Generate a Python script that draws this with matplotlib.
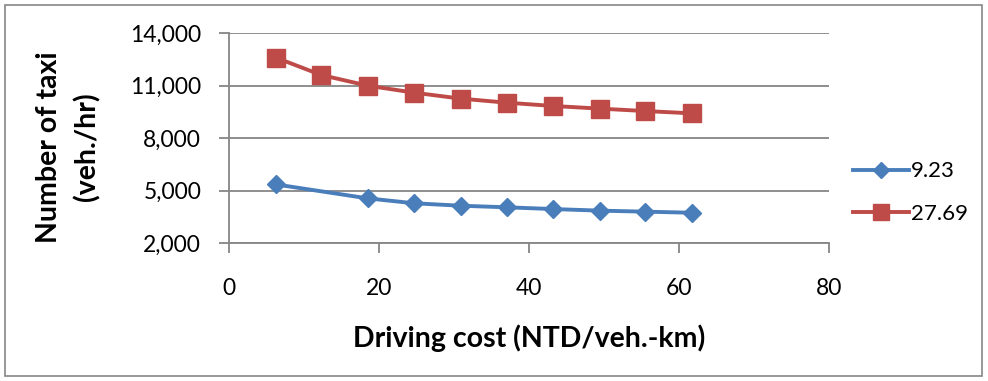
import numpy as np
import matplotlib
import matplotlib.pyplot as plt
from matplotlib.ticker import FuncFormatter
from matplotlib.patches import Rectangle

matplotlib.use('Agg')

# data
cost = [6.2, 12.3, 18.5, 24.7, 30.9, 37.0, 43.2, 49.4, 55.5, 61.7]
taxi_923 = [5350, np.nan, 4550, 4270, 4130, 4040, 3940, 3850, 3790, 3730]
taxi_2769 = [12600, 11600, 10990, 10590, 10250, 10020, 9830, 9680, 9540, 9410]
series_names = ['9.23', '27.69']

plt.rcParams['font.family'] = ['Lato', 'DejaVu Sans']

W, H = 988, 381
fig = plt.figure(figsize=(W / 100, H / 100), dpi=100)
ax = fig.add_axes([229 / W, 1 - 243 / H, 600 / W, 210 / H])

# outer chart border
fig.patches.append(Rectangle((5 / W, 5 / H), 977 / W, 371 / H,
                             transform=fig.transFigure, fill=False,
                             edgecolor='#868686', linewidth=1.2))

blue = '#4A7EBB'
red = '#BE4B48'

x = np.array(cost)
y1 = np.array(taxi_923)
ok = ~np.isnan(y1)
ax.plot(x[ok], y1[ok], color=blue, lw=2.8, marker='D', ms=9,
        markeredgecolor=blue, markeredgewidth=1, label=series_names[0], zorder=3)
ax.plot(x, taxi_2769, color=red, lw=2.8, marker='s', ms=13.5,
        markeredgecolor=red, markeredgewidth=1, label=series_names[1], zorder=3)

ax.set_xlim(0, 80)
ax.set_ylim(2000, 14000)
ax.set_xticks([0, 20, 40, 60, 80])
ax.set_yticks([2000, 5000, 8000, 11000, 14000])
ax.yaxis.set_major_formatter(FuncFormatter(lambda v, p: f'{int(v):,}'))

ax.grid(axis='y', color='#868686', lw=1.3)
ax.set_axisbelow(True)
for s in ['top', 'right']:
    ax.spines[s].set_visible(False)
for s in ['left', 'bottom']:
    ax.spines[s].set_color('#868686')
    ax.spines[s].set_linewidth(1.3)
ax.tick_params(axis='both', colors='#868686', labelcolor='black',
               labelsize=16.5, length=7, width=1.3, direction='out')
ax.tick_params(axis='y', pad=13)
ax.tick_params(axis='x', pad=18)

ax.set_xlabel('Driving cost (NTD/veh.-km)', fontsize=20.5, fontweight='bold')
ax.xaxis.set_label_coords(0.5, -0.39)
ax.set_ylabel('Number of taxi\n(veh./hr)', fontsize=20.5, fontweight='bold',
              linespacing=1.5)
ax.yaxis.set_label_coords(-0.215, 0.457)

ax.legend(loc='center left', bbox_to_anchor=(853 / W, 1 - 192.5 / H),
          bbox_transform=fig.transFigure, frameon=False, fontsize=16,
          handlelength=2.5, handletextpad=0.1, labelspacing=1.0,
          borderpad=0, borderaxespad=0, markerscale=0.85)

plt.savefig('out.png', dpi=100)
